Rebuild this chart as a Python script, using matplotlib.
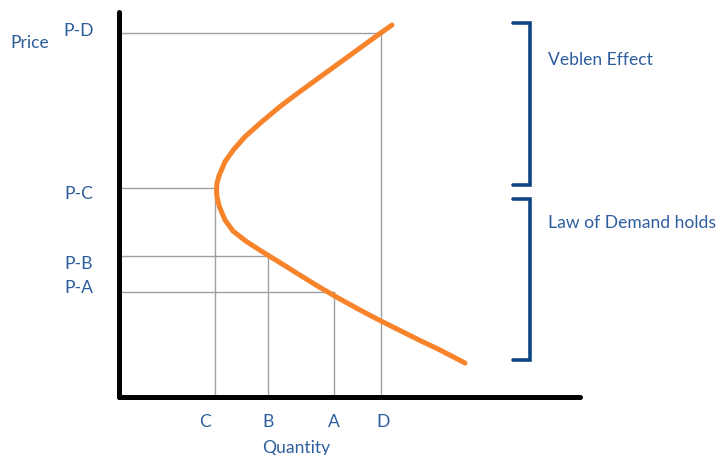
"""
Veblen good demand curve: backward-bending demand with price/quantity guides.
"""

import matplotlib
matplotlib.use("Agg")
import matplotlib.pyplot as plt

# ── Colours ───────────────────────────────────────────────────────────────────
ORANGE = "#F7832A"
NAVY   = "#0F4584"
BLUE   = "#2E5E9E"
GUIDE  = "#A0A0A0"
AXIS   = "#000000"

plt.rcParams["font.family"] = ["Lato", "DejaVu Sans"]

# ── Demand curve (quantity, price) ────────────────────────────────────────────
CURVE_Q = [346, 321, 301, 281, 261, 241, 221, 201, 184, 168, 151, 139, 126,
           114, 106, 100.5, 98, 97.5, 98, 100.3, 106, 114.3, 126, 141, 161,
           181, 201, 221, 241, 261, 273]
CURVE_P = [34, 47, 56.5, 66.5, 76.5, 87, 98, 109.5, 120, 130, 140.5, 148,
           156.5, 166, 177, 190, 200, 207, 214, 222, 235.3, 247, 260.3, 273.7,
           290.5, 305.5, 320, 334.5, 349, 363.5, 372]

# ── Guide points (quantity label, quantity, price label, price) ───────────────
Q_LABELS = ["C", "B", "A", "D"]
Q_VALUES = [96, 149, 215, 262]
P_LABELS = ["P-C", "P-B", "P-A", "P-D"]
P_VALUES = [209, 141, 105, 364]

# where the labels sit (data units)
Q_LABEL_X = [86, 149, 215, 264]
P_LABEL_Y = [203, 133, 109, 366]

# ── Brackets (price ranges) ───────────────────────────────────────────────────
BRACKET_NAMES = ["Veblen Effect", "Law of Demand holds"]
BRACKET_TOP   = [374, 198]
BRACKET_BOT   = [212, 37]
BRACKET_TEXT_P = [337, 174]

XMAX, YMAX = 461, 385
FS = 12.6


def main() -> None:
    fig = plt.figure(figsize=(7.16, 4.55), dpi=100, facecolor="white")
    ax = fig.add_axes([119 / 716, 58 / 455, XMAX / 716, YMAX / 455])
    ax.set_xlim(0, XMAX)
    ax.set_ylim(0, YMAX)
    ax.set_xticks([])
    ax.set_yticks([])
    for side in ("top", "right"):
        ax.spines[side].set_visible(False)
    for side in ("left", "bottom"):
        ax.spines[side].set_linewidth(3.6)
        ax.spines[side].set_color(AXIS)
        ax.spines[side].set_capstyle("round")

    # guide lines
    for q, p in zip(Q_VALUES, P_VALUES):
        ax.plot([0, q], [p, p], color=GUIDE, lw=1.0, zorder=1)
        ax.plot([q, q], [0, p], color=GUIDE, lw=1.0, zorder=1)

    # demand curve
    ax.plot(CURVE_Q, CURVE_P, color=ORANGE, lw=3.6, solid_capstyle="round",
            solid_joinstyle="round", zorder=3, clip_on=False)

    # axis labels
    for lab, x in zip(Q_LABELS, Q_LABEL_X):
        ax.text(x, -25, lab, ha="center", va="center", fontsize=FS,
                color=BLUE, clip_on=False)
    for lab, y in zip(P_LABELS, P_LABEL_Y):
        ax.text(-40, y, lab, ha="center", va="center", fontsize=FS,
                color=BLUE, clip_on=False)
    ax.text(-89, 354, "Price", ha="center", va="center", fontsize=FS,
            color=BLUE, clip_on=False)
    ax.text(177, -51, "Quantity", ha="center", va="center", fontsize=FS,
            color=BLUE, clip_on=False)

    # brackets
    for name, top, bot, ty in zip(BRACKET_NAMES, BRACKET_TOP, BRACKET_BOT,
                                  BRACKET_TEXT_P):
        ax.plot([394, 411, 411, 394], [top, top, bot, bot], color=NAVY, lw=2.6,
                solid_capstyle="round", solid_joinstyle="miter", clip_on=False)
        ax.text(429, ty, name, ha="left", va="center", fontsize=FS,
                color=BLUE, clip_on=False)

    fig.savefig("out.png", dpi=100, facecolor="white")
    plt.close(fig)


if __name__ == "__main__":
    main()
